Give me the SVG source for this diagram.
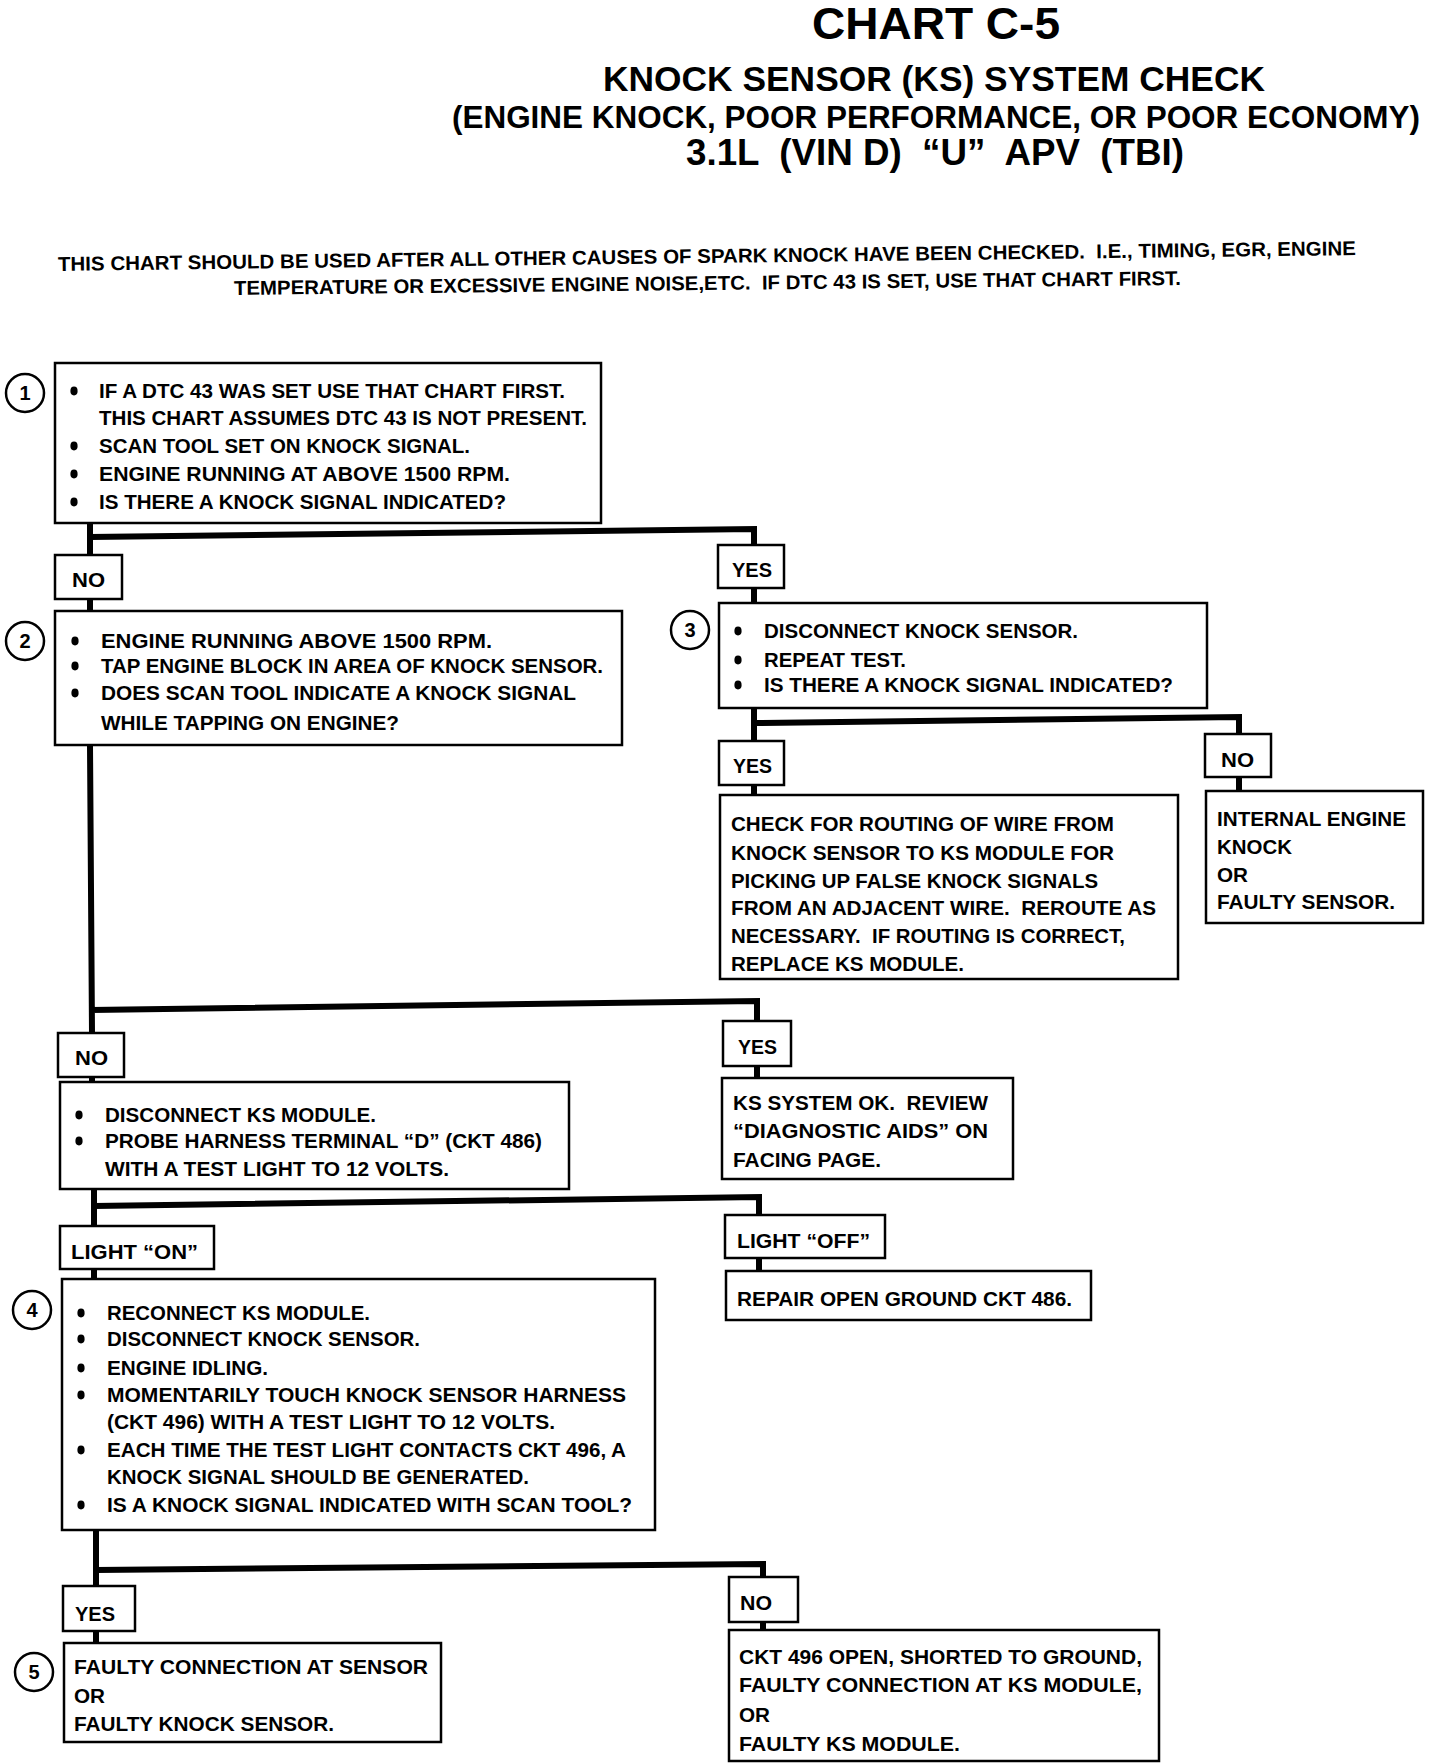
<svg xmlns="http://www.w3.org/2000/svg" width="1440" height="1764" viewBox="0 0 1440 1764">
<style>
text{font-family:"Liberation Sans",Arial,sans-serif;font-weight:bold;fill:#000}
.t{font-size:20px}
.c{font-size:20px;text-anchor:middle}
.box{fill:#fff;stroke:#000;stroke-width:2.5}
.circ{fill:#fff;stroke:#000;stroke-width:2.5}
.conn{fill:none;stroke:#000;stroke-width:6;stroke-linejoin:miter}
</style>
<defs>
<ellipse id="dot" cx="0" cy="0" rx="3.6" ry="4.4" fill="#000"/>
</defs>
<rect width="1440" height="1764" fill="#fff"/>
<g id="title">
<text x="812" y="39" style="font-size:44px" textLength="248" lengthAdjust="spacingAndGlyphs">CHART C-5</text>
<text x="603" y="91" style="font-size:35px" textLength="662" lengthAdjust="spacingAndGlyphs">KNOCK SENSOR (KS) SYSTEM CHECK</text>
<text x="452" y="128" style="font-size:32px" textLength="968" lengthAdjust="spacingAndGlyphs">(ENGINE KNOCK, POOR PERFORMANCE, OR POOR ECONOMY)</text>
<text x="686" y="165" style="font-size:36px" textLength="498" lengthAdjust="spacingAndGlyphs" xml:space="preserve">3.1L  (VIN D)  “U”  APV  (TBI)</text>
<text x="58" y="263" class="t" textLength="1298" lengthAdjust="spacingAndGlyphs" transform="rotate(-0.7 707 263)" xml:space="preserve">THIS CHART SHOULD BE USED AFTER ALL OTHER CAUSES OF SPARK KNOCK HAVE BEEN CHECKED.  I.E., TIMING, EGR, ENGINE</text>
<text x="234" y="290" class="t" textLength="947" lengthAdjust="spacingAndGlyphs" transform="rotate(-0.6 707 290)" xml:space="preserve">TEMPERATURE OR EXCESSIVE ENGINE NOISE,ETC.  IF DTC 43 IS SET, USE THAT CHART FIRST.</text>
</g>
<g id="connectors">
<path class="conn" d="M90 523 V555 M90 537 L754 529 V545"/>
<path class="conn" d="M90 599 V611"/>
<path class="conn" d="M754 588 V603"/>
<path class="conn" d="M754 708 V741 M754 723 L1239 717 V734"/>
<path class="conn" d="M754 785 V795"/>
<path class="conn" d="M1239 777 V791"/>
<path class="conn" d="M90 745 L92 1033 M91 1010 L757 1001 V1021"/>
<path class="conn" d="M757 1066 V1078"/>
<path class="conn" d="M92 1077 V1082"/>
<path class="conn" d="M94 1189 V1226 M94 1206 L759 1197 V1215"/>
<path class="conn" d="M759 1258 V1271"/>
<path class="conn" d="M94 1269 V1279"/>
<path class="conn" d="M96 1530 V1586 M96 1570 L763 1564 V1577"/>
<path class="conn" d="M96 1631 V1643"/>
<path class="conn" d="M763 1622 V1630"/>
</g>
<g id="step1">
<circle class="circ" cx="25" cy="393" r="19"/>
<text x="25" y="400" class="c">1</text>
<rect class="box" x="55" y="363" width="546" height="160"/>
<use href="#dot" x="74" y="391"/><text x="99" y="398" class="t" textLength="466" lengthAdjust="spacingAndGlyphs">IF A DTC 43 WAS SET USE THAT CHART FIRST.</text>
<text x="99" y="425" class="t" textLength="488" lengthAdjust="spacingAndGlyphs">THIS CHART ASSUMES DTC 43 IS NOT PRESENT.</text>
<use href="#dot" x="74" y="446"/><text x="99" y="453" class="t" textLength="371" lengthAdjust="spacingAndGlyphs">SCAN TOOL SET ON KNOCK SIGNAL.</text>
<use href="#dot" x="74" y="474"/><text x="99" y="481" class="t" textLength="411" lengthAdjust="spacingAndGlyphs">ENGINE RUNNING AT ABOVE 1500 RPM.</text>
<use href="#dot" x="74" y="502"/><text x="99" y="509" class="t" textLength="407" lengthAdjust="spacingAndGlyphs">IS THERE A KNOCK SIGNAL INDICATED?</text>
</g>
<g id="no1">
<rect class="box" x="55" y="555" width="67" height="44"/>
<text x="72" y="587" class="t" textLength="33" lengthAdjust="spacingAndGlyphs">NO</text>
</g>
<g id="yes1">
<rect class="box" x="718" y="545" width="66" height="43"/>
<text x="732" y="577" class="t" textLength="40" lengthAdjust="spacingAndGlyphs">YES</text>
</g>
<g id="step2">
<circle class="circ" cx="25" cy="641" r="19"/>
<text x="25" y="648" class="c">2</text>
<rect class="box" x="55" y="611" width="567" height="134"/>
<use href="#dot" x="75" y="641"/><text x="101" y="648" class="t" textLength="391" lengthAdjust="spacingAndGlyphs">ENGINE RUNNING ABOVE 1500 RPM.</text>
<use href="#dot" x="75" y="666"/><text x="101" y="673" class="t" textLength="502" lengthAdjust="spacingAndGlyphs">TAP ENGINE BLOCK IN AREA OF KNOCK SENSOR.</text>
<use href="#dot" x="75" y="693"/><text x="101" y="700" class="t" textLength="475" lengthAdjust="spacingAndGlyphs">DOES SCAN TOOL INDICATE A KNOCK SIGNAL</text>
<text x="101" y="730" class="t" textLength="298" lengthAdjust="spacingAndGlyphs">WHILE TAPPING ON ENGINE?</text>
</g>
<g id="step3">
<circle class="circ" cx="690" cy="630" r="19"/>
<text x="690" y="637" class="c">3</text>
<rect class="box" x="719" y="603" width="488" height="105"/>
<use href="#dot" x="738" y="631"/><text x="764" y="638" class="t" textLength="314" lengthAdjust="spacingAndGlyphs">DISCONNECT KNOCK SENSOR.</text>
<use href="#dot" x="738" y="660"/><text x="764" y="667" class="t" textLength="142" lengthAdjust="spacingAndGlyphs">REPEAT TEST.</text>
<use href="#dot" x="738" y="685"/><text x="764" y="692" class="t" textLength="409" lengthAdjust="spacingAndGlyphs">IS THERE A KNOCK SIGNAL INDICATED?</text>
</g>
<g id="yes2">
<rect class="box" x="719" y="741" width="65" height="44"/>
<text x="733" y="773" class="t" textLength="39" lengthAdjust="spacingAndGlyphs">YES</text>
</g>
<g id="no2">
<rect class="box" x="1205" y="734" width="66" height="43"/>
<text x="1221" y="767" class="t" textLength="33" lengthAdjust="spacingAndGlyphs">NO</text>
</g>
<g id="checkRouting">
<rect class="box" x="720" y="795" width="458" height="184"/>
<text x="731" y="831" class="t" textLength="383" lengthAdjust="spacingAndGlyphs">CHECK FOR ROUTING OF WIRE FROM</text>
<text x="731" y="860" class="t" textLength="383" lengthAdjust="spacingAndGlyphs">KNOCK SENSOR TO KS MODULE FOR</text>
<text x="731" y="888" class="t" textLength="367" lengthAdjust="spacingAndGlyphs">PICKING UP FALSE KNOCK SIGNALS</text>
<text x="731" y="915" class="t" textLength="425" lengthAdjust="spacingAndGlyphs" xml:space="preserve">FROM AN ADJACENT WIRE.  REROUTE AS</text>
<text x="731" y="943" class="t" textLength="394" lengthAdjust="spacingAndGlyphs" xml:space="preserve">NECESSARY.  IF ROUTING IS CORRECT,</text>
<text x="731" y="971" class="t" textLength="233" lengthAdjust="spacingAndGlyphs">REPLACE KS MODULE.</text>
</g>
<g id="internalKnock">
<rect class="box" x="1206" y="791" width="217" height="132"/>
<text x="1217" y="826" class="t" textLength="189" lengthAdjust="spacingAndGlyphs">INTERNAL ENGINE</text>
<text x="1217" y="854" class="t" textLength="75" lengthAdjust="spacingAndGlyphs">KNOCK</text>
<text x="1217" y="882" class="t" textLength="31" lengthAdjust="spacingAndGlyphs">OR</text>
<text x="1217" y="909" class="t" textLength="178" lengthAdjust="spacingAndGlyphs">FAULTY SENSOR.</text>
</g>
<g id="no3">
<rect class="box" x="58" y="1033" width="66" height="44"/>
<text x="75" y="1065" class="t" textLength="33" lengthAdjust="spacingAndGlyphs">NO</text>
</g>
<g id="yes3">
<rect class="box" x="723" y="1021" width="68" height="45"/>
<text x="738" y="1054" class="t" textLength="39" lengthAdjust="spacingAndGlyphs">YES</text>
</g>
<g id="ksOk">
<rect class="box" x="722" y="1078" width="291" height="101"/>
<text x="733" y="1110" class="t" textLength="255" lengthAdjust="spacingAndGlyphs" xml:space="preserve">KS SYSTEM OK.  REVIEW</text>
<text x="733" y="1138" class="t" textLength="255" lengthAdjust="spacingAndGlyphs">“DIAGNOSTIC AIDS” ON</text>
<text x="733" y="1167" class="t" textLength="148" lengthAdjust="spacingAndGlyphs">FACING PAGE.</text>
</g>
<g id="disconnectModule">
<rect class="box" x="60" y="1082" width="509" height="107"/>
<use href="#dot" x="79" y="1115"/><text x="105" y="1122" class="t" textLength="271" lengthAdjust="spacingAndGlyphs">DISCONNECT KS MODULE.</text>
<use href="#dot" x="79" y="1141"/><text x="105" y="1148" class="t" textLength="437" lengthAdjust="spacingAndGlyphs">PROBE HARNESS TERMINAL “D” (CKT 486)</text>
<text x="105" y="1176" class="t" textLength="344" lengthAdjust="spacingAndGlyphs">WITH A TEST LIGHT TO 12 VOLTS.</text>
</g>
<g id="lightOn">
<rect class="box" x="60" y="1226" width="154" height="43"/>
<text x="71" y="1259" class="t" textLength="127" lengthAdjust="spacingAndGlyphs">LIGHT “ON”</text>
</g>
<g id="lightOff">
<rect class="box" x="725" y="1215" width="160" height="43"/>
<text x="737" y="1248" class="t" textLength="133" lengthAdjust="spacingAndGlyphs">LIGHT “OFF”</text>
</g>
<g id="repairGround">
<rect class="box" x="726" y="1271" width="365" height="49"/>
<text x="737" y="1306" class="t" textLength="335" lengthAdjust="spacingAndGlyphs">REPAIR OPEN GROUND CKT 486.</text>
</g>
<g id="step4">
<circle class="circ" cx="32" cy="1310" r="19"/>
<text x="32" y="1317" class="c">4</text>
<rect class="box" x="62" y="1279" width="593" height="251"/>
<use href="#dot" x="81" y="1313"/><text x="107" y="1320" class="t" textLength="263" lengthAdjust="spacingAndGlyphs">RECONNECT KS MODULE.</text>
<use href="#dot" x="81" y="1339"/><text x="107" y="1346" class="t" textLength="313" lengthAdjust="spacingAndGlyphs">DISCONNECT KNOCK SENSOR.</text>
<use href="#dot" x="81" y="1368"/><text x="107" y="1375" class="t" textLength="161" lengthAdjust="spacingAndGlyphs">ENGINE IDLING.</text>
<use href="#dot" x="81" y="1395"/><text x="107" y="1402" class="t" textLength="519" lengthAdjust="spacingAndGlyphs">MOMENTARILY TOUCH KNOCK SENSOR HARNESS</text>
<text x="107" y="1429" class="t" textLength="448" lengthAdjust="spacingAndGlyphs">(CKT 496) WITH A TEST LIGHT TO 12 VOLTS.</text>
<use href="#dot" x="81" y="1450"/><text x="107" y="1457" class="t" textLength="519" lengthAdjust="spacingAndGlyphs">EACH TIME THE TEST LIGHT CONTACTS CKT 496, A</text>
<text x="107" y="1484" class="t" textLength="422" lengthAdjust="spacingAndGlyphs">KNOCK SIGNAL SHOULD BE GENERATED.</text>
<use href="#dot" x="81" y="1505"/><text x="107" y="1512" class="t" textLength="525" lengthAdjust="spacingAndGlyphs">IS A KNOCK SIGNAL INDICATED WITH SCAN TOOL?</text>
</g>
<g id="yes4">
<rect class="box" x="63" y="1586" width="72" height="45"/>
<text x="75" y="1621" class="t" textLength="40" lengthAdjust="spacingAndGlyphs">YES</text>
</g>
<g id="no4">
<rect class="box" x="729" y="1577" width="69" height="45"/>
<text x="740" y="1610" class="t" textLength="32" lengthAdjust="spacingAndGlyphs">NO</text>
</g>
<g id="step5">
<circle class="circ" cx="34" cy="1672" r="19"/>
<text x="34" y="1679" class="c">5</text>
<rect class="box" x="64" y="1643" width="377" height="99"/>
<text x="74" y="1674" class="t" textLength="354" lengthAdjust="spacingAndGlyphs">FAULTY CONNECTION AT SENSOR</text>
<text x="74" y="1703" class="t" textLength="31" lengthAdjust="spacingAndGlyphs">OR</text>
<text x="74" y="1731" class="t" textLength="260" lengthAdjust="spacingAndGlyphs">FAULTY KNOCK SENSOR.</text>
</g>
<g id="ckt496">
<rect class="box" x="729" y="1630" width="430" height="131"/>
<text x="739" y="1664" class="t" textLength="403" lengthAdjust="spacingAndGlyphs">CKT 496 OPEN, SHORTED TO GROUND,</text>
<text x="739" y="1692" class="t" textLength="403" lengthAdjust="spacingAndGlyphs">FAULTY CONNECTION AT KS MODULE,</text>
<text x="739" y="1722" class="t" textLength="31" lengthAdjust="spacingAndGlyphs">OR</text>
<text x="739" y="1751" class="t" textLength="221" lengthAdjust="spacingAndGlyphs">FAULTY KS MODULE.</text>
</g>
</svg>
